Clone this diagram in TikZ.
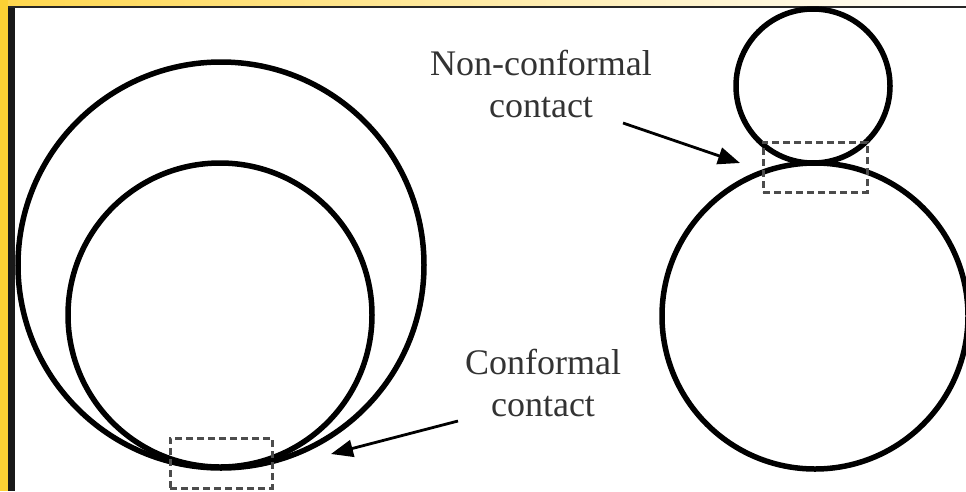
\documentclass[tikz,border=0pt]{standalone}
\usepackage{fontspec}
\setmainfont{Liberation Serif}
\usetikzlibrary{arrows.meta}
\begin{document}
\begin{tikzpicture}[x=1pt,y=-1pt,
  ring/.style={line width=5.5pt,draw=black},
  dashbox/.style={draw=black!70,line width=3pt,dash pattern=on 7pt off 4pt},
  pointer/.style={draw=black,line width=2.8pt,-{Triangle[length=22pt,width=17pt]}},
  lbl/.style={font=\fontsize{36}{42}\selectfont,text=black!80,align=center,inner sep=0pt}]
\useasboundingbox (0,0) rectangle (966,491);
\fill[white] (0,0) rectangle (966,491);
% frame decorations
\shade[left color=yellow!55!orange!70,right color=white] (0,0) rectangle (966,6);
\fill[yellow!60!orange!80] (0,0) rectangle (8,491);
\fill[black!90] (8,6) rectangle (15,491);
\draw[black!85,line width=2pt] (8,7) -- (966,7);
% left pair
\draw[ring] (221,265) circle[radius=203];
\draw[ring] (220,315) circle[radius=152];
\node[dashbox,minimum width=102pt,minimum height=50pt,inner sep=0pt] (cbox) at (221,463) {};
% right pair
\draw[ring] (813,86) circle[radius=77];
\draw[ring] (815,316) circle[radius=153];
\node[dashbox,minimum width=104pt,minimum height=50pt,inner sep=0pt] (nbox) at (815,167) {};
% labels
\node[lbl] (nc) at (541,84) {Non-conformal\\contact};
\node[lbl] (cf) at (543,383) {Conformal\\contact};
\coordinate (nstart) at (623,123);
\coordinate (ntip) at (740,163);
\coordinate (cstart) at (458,421);
\coordinate (ctip) at (331,454);
\draw[pointer] (nstart) -- (ntip);
\draw[pointer] (cstart) -- (ctip);
\end{tikzpicture}
\end{document}
